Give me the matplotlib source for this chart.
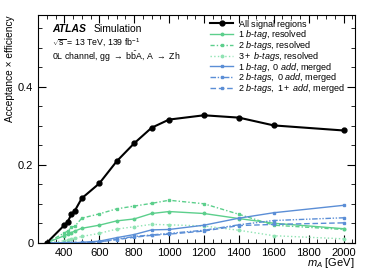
import matplotlib
matplotlib.use("Agg")
import matplotlib.pyplot as plt
from matplotlib.ticker import MultipleLocator, FixedLocator

plt.rcParams["font.family"] = ["Liberation Sans", "DejaVu Sans"]
plt.rcParams["mathtext.fontset"] = "custom"
plt.rcParams["mathtext.rm"] = "Liberation Sans"
plt.rcParams["mathtext.it"] = "Liberation Sans:italic"

# signal mass points [GeV]
mass = [300, 400, 420, 440, 460, 500, 600, 700, 800, 900, 1000, 1200, 1400, 1600, 2000]

# acceptance x efficiency per category
all_sr = [0.0, 0.045, 0.054, 0.073, 0.082, 0.114, 0.152, 0.209, 0.255, 0.295, 0.316, 0.327, 0.321, 0.301, 0.288]
res_1b = [0.0, 0.018, 0.022, 0.026, 0.030, 0.037, 0.045, 0.056, 0.061, 0.075, 0.080, 0.075, 0.062, 0.050, 0.036]
res_2b = [0.0, 0.025, 0.030, 0.040, 0.042, 0.063, 0.074, 0.087, 0.094, 0.101, 0.109, 0.100, 0.073, 0.045, 0.034]
res_3b = [0.0, 0.005, 0.008, 0.010, 0.012, 0.016, 0.024, 0.035, 0.041, 0.047, 0.046, 0.043, 0.032, 0.018, 0.010]
mer_1b0 = [0.0, 0.0, 0.0, 0.0, 0.0, 0.001, 0.004, 0.013, 0.021, 0.033, 0.034, 0.045, 0.063, 0.077, 0.096]
mer_2b0 = [0.0, 0.0, 0.0, 0.0, 0.0, 0.0, 0.002, 0.009, 0.016, 0.020, 0.024, 0.032, 0.046, 0.057, 0.064]
mer_2b1 = [0.0, 0.0, 0.0, 0.0, 0.0, 0.0, 0.002, 0.008, 0.014, 0.019, 0.022, 0.030, 0.044, 0.047, 0.051]

labels = [
    r"$\mathregular{All\ signal\ regions}$",
    r"$\mathit{1\ b}$-$\mathit{tag}$, resolved",
    r"$\mathit{2\ b}$-$\mathit{tags}$, resolved",
    r"$\mathit{3+\ b}$-$\mathit{tags}$, resolved",
    r"$\mathit{1\ b}$-$\mathit{tag,}$ $\mathit{0\ add}$, merged",
    r"$\mathit{2\ b}$-$\mathit{tags,}$ $\mathit{0\ add}$, merged",
    r"$\mathit{2\ b}$-$\mathit{tags,}$ $\mathit{1+\ add}$, merged",
]

GREEN = "#5ccf8c"
GREEN_LIGHT = "#8fe3b3"
BLUE = "#5b8ed6"

fig = plt.figure(figsize=(3.74, 2.70), dpi=100)
ax = fig.add_axes([0.102, 0.101, 0.847, 0.843])

ax.plot(mass, all_sr, color="black", lw=1.5, marker="o", ms=3.5, label=labels[0], zorder=5)
ax.plot(mass, res_1b, color=GREEN, lw=1.0, ls="-", marker="o", ms=1.8, label=labels[1])
ax.plot(mass, res_2b, color=GREEN, lw=1.0, ls=(0, (3, 1.5, 1, 1.5)), marker="s", ms=1.8,
        label=labels[2])
ax.plot(mass, res_3b, color=GREEN_LIGHT, lw=1.0, ls=":", marker="o", ms=1.8, label=labels[3])
ax.plot(mass, mer_1b0, color=BLUE, lw=1.0, ls="-", marker="s", ms=2.0, label=labels[4])
ax.plot(mass, mer_2b0, color=BLUE, lw=1.0, ls=(0, (4, 1.2, 1, 1.2, 1, 1.2)), marker="s",
        ms=2.0, label=labels[5])
ax.plot(mass, mer_2b1, color=BLUE, lw=1.0, ls=(0, (4, 2)), marker="s", ms=2.0, label=labels[6])

ax.set_xlim(250, 2065)
ax.set_ylim(0, 0.584)
ax.xaxis.set_major_locator(MultipleLocator(200))
ax.xaxis.set_minor_locator(MultipleLocator(50))
ax.yaxis.set_major_locator(FixedLocator([0, 0.2, 0.4]))
ax.yaxis.set_minor_locator(MultipleLocator(0.05))
ax.set_yticklabels(["0", "0.2", "0.4"])
ax.tick_params(which="both", direction="in", top=True, right=True, labelsize=8)
ax.tick_params(which="major", length=6)
ax.tick_params(which="minor", length=3)

ax.set_xlabel(r"$m_{A}$ [GeV]", fontsize=8, loc="right", labelpad=-1)
ax.set_ylabel("Acceptance × efficiency", fontsize=7.3, loc="top", labelpad=2)

ax.text(0.045, 0.938, "ATLAS", transform=ax.transAxes, fontsize=7.5,
        fontweight="bold", fontstyle="italic", va="center")
ax.text(0.175, 0.938, "Simulation", transform=ax.transAxes, fontsize=7.5, va="center")
ax.text(0.045, 0.877, r"$\sqrt{\mathrm{s}}$ = 13 TeV, 139 fb$^{-1}$", transform=ax.transAxes,
        fontsize=6.3, va="center")
ax.text(0.045, 0.816, r"0L channel, gg $\rightarrow$ b$\bar{\mathrm{b}}$A, A $\rightarrow$ Zh",
        transform=ax.transAxes, fontsize=6.3, va="center")

ax.legend(loc="upper right", bbox_to_anchor=(0.985, 1.013), frameon=False, fontsize=6.5,
          handlelength=2.6, handletextpad=0.5, labelspacing=-0.25, borderaxespad=0.2)

fig.savefig("out.png", dpi=100)
